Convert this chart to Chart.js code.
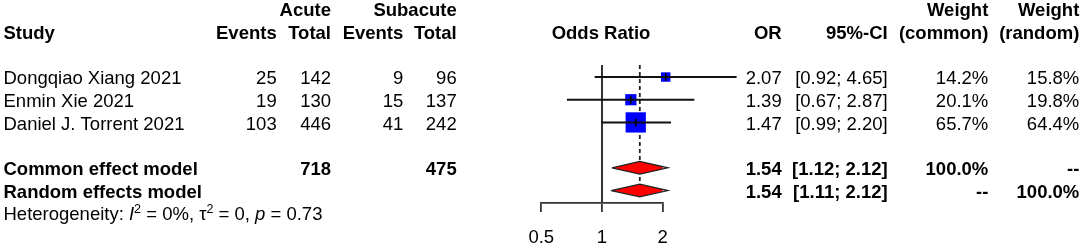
<!DOCTYPE html>
<html>
<head>
<meta charset="utf-8">
<script src="https://cdn.jsdelivr.net/npm/chart.js@4.4.1/dist/chart.umd.min.js"></script>
<style>
  html, body { margin: 0; padding: 0; background: #fff; }
  #wrap { width: 1084px; height: 247px; }
</style>
</head>
<body>
<div id="wrap"><canvas id="forest" width="1084" height="247"></canvas></div>
<script>
// datos del forest plot
const studies = ['Dongqiao Xiang 2021', 'Enmin Xie 2021', 'Daniel J. Torrent 2021'];
const acuteEvents = [25, 19, 103];
const acuteTotal = [142, 130, 446];
const subEvents = [9, 15, 41];
const subTotal = [96, 137, 242];
const orEst = [2.07, 1.39, 1.47];
const ciLow = [0.92, 0.67, 0.99];
const ciHigh = [4.65, 2.87, 2.20];
const weightCommon = [14.2, 20.1, 65.7];
const weightRandom = [15.8, 19.8, 64.4];

const models = ['Common effect model', 'Random effects model'];
const modelOR = [1.54, 1.54];
const modelLow = [1.12, 1.11];
const modelHigh = [2.12, 2.12];
const modelWeightCommon = ['100.0%', '--'];
const modelWeightRandom = ['--', '100.0%'];

const heterogeneity = { i2: '0%', tau2: '0', p: '0.73' };
const xTicks = [0.5, 1, 2];

// filas (unidades del eje y)
const studyRows = [3, 4, 5];
const modelRows = [7, 8];
const yTop = 2.47, yBottom = 8.55;
const diamondHalf = 0.28;

const FONT = '"Liberation Sans", Arial, Helvetica, sans-serif';
const FS = 18.5;

const totalAcute = acuteTotal.reduce((a, b) => a + b, 0);
const totalSub = subTotal.reduce((a, b) => a + b, 0);

// columnas de texto
const col = { study: 3.5, aEv: 276.7, aTot: 331, sEv: 403.3, sTot: 456.7, or: 781.7, ci: 887.7, wC: 988.3, wR: 1079.3, head: 601 };

function fmtCI(lo, hi) {
    return '[' + lo.toFixed(2) + '; ' + hi.toFixed(2) + ']';
}

const datasets = [];

// marcas verticales del estimador
datasets.push({
    data: orEst.map((v, i) => ({ x: v, y: studyRows[i] })),
    pointStyle: 'line',
    pointRotation: 90,
    pointRadius: 4,
    pointBorderColor: '#000',
    pointBorderWidth: 1.6,
    showLine: false,
    clip: false
});

// intervalos de confianza
studies.forEach((s, i) => {
    datasets.push({
        data: [{ x: ciLow[i], y: studyRows[i] }, { x: ciHigh[i], y: studyRows[i] }],
        showLine: true,
        borderColor: '#111',
        borderWidth: 2,
        pointRadius: 0,
        clip: false
    });
});

// cuadrados (tamaño segun peso)
datasets.push({
    data: orEst.map((v, i) => ({ x: v, y: studyRows[i] })),
    pointStyle: 'rect',
    pointRadius: weightCommon.map(w => 2.5 * Math.sqrt(w) / Math.SQRT2),
    pointBackgroundColor: '#0000ff',
    pointBorderWidth: 0,
    showLine: false,
    clip: false
});

// diamantes
models.forEach((m, i) => {
    const r = modelRows[i];
    datasets.push({
        data: [
            { x: modelLow[i], y: r },
            { x: modelOR[i], y: r - diamondHalf },
            { x: modelHigh[i], y: r },
            { x: modelOR[i], y: r + diamondHalf },
            { x: modelLow[i], y: r }
        ],
        showLine: true,
        fill: 'shape',
        backgroundColor: '#ff0000',
        borderColor: '#222',
        borderWidth: 1.3,
        pointRadius: 0,
        tension: 0,
        clip: false
    });
});

// linea de no efecto
datasets.push({
    data: [{ x: 1, y: yTop }, { x: 1, y: yBottom }],
    showLine: true,
    borderColor: '#333',
    borderWidth: 2,
    pointRadius: 0,
    clip: false
});

// linea discontinua del modelo comun
datasets.push({
    data: [{ x: modelOR[0], y: yTop }, { x: modelOR[0], y: modelRows[1] - diamondHalf }],
    showLine: true,
    borderColor: '#222',
    borderWidth: 1.8,
    borderDash: [4, 3],
    pointRadius: 0,
    clip: false
});

function drawText(ctx, txt, x, y, align, bold) {
    ctx.font = (bold ? 'bold ' : '') + FS + 'px ' + FONT;
    ctx.textAlign = align;
    ctx.fillText(txt, x, y);
}

const textoPlugin = {
    id: 'texto',
    afterDraw(chart) {
        const ctx = chart.ctx;
        const yS = chart.scales.y;
        const rowY = r => yS.getPixelForValue(r) + 2;
        ctx.save();
        ctx.fillStyle = '#000';
        ctx.textBaseline = 'middle';

        // cabeceras
        let y0 = rowY(0), y1 = rowY(1);
        drawText(ctx, 'Acute', col.aTot, y0, 'right', true);
        drawText(ctx, 'Subacute', col.sTot, y0, 'right', true);
        drawText(ctx, 'Weight', col.wC, y0, 'right', true);
        drawText(ctx, 'Weight', col.wR, y0, 'right', true);
        drawText(ctx, 'Study', col.study, y1, 'left', true);
        drawText(ctx, 'Events', col.aEv, y1, 'right', true);
        drawText(ctx, 'Total', col.aTot, y1, 'right', true);
        drawText(ctx, 'Events', col.sEv, y1, 'right', true);
        drawText(ctx, 'Total', col.sTot, y1, 'right', true);
        drawText(ctx, 'Odds Ratio', col.head, y1, 'center', true);
        drawText(ctx, 'OR', col.or, y1, 'right', true);
        drawText(ctx, '95%-CI', col.ci, y1, 'right', true);
        drawText(ctx, '(common)', col.wC, y1, 'right', true);
        drawText(ctx, '(random)', col.wR, y1, 'right', true);

        // estudios
        studies.forEach((s, i) => {
            const y = rowY(studyRows[i]);
            drawText(ctx, s, col.study, y, 'left', false);
            drawText(ctx, String(acuteEvents[i]), col.aEv, y, 'right', false);
            drawText(ctx, String(acuteTotal[i]), col.aTot, y, 'right', false);
            drawText(ctx, String(subEvents[i]), col.sEv, y, 'right', false);
            drawText(ctx, String(subTotal[i]), col.sTot, y, 'right', false);
            drawText(ctx, orEst[i].toFixed(2), col.or, y, 'right', false);
            drawText(ctx, fmtCI(ciLow[i], ciHigh[i]), col.ci, y, 'right', false);
            drawText(ctx, weightCommon[i].toFixed(1) + '%', col.wC, y, 'right', false);
            drawText(ctx, weightRandom[i].toFixed(1) + '%', col.wR, y, 'right', false);
        });

        // modelos
        models.forEach((m, i) => {
            const y = rowY(modelRows[i]);
            drawText(ctx, m, col.study, y, 'left', true);
            if (i === 0) {
                drawText(ctx, String(totalAcute), col.aTot, y, 'right', true);
                drawText(ctx, String(totalSub), col.sTot, y, 'right', true);
            }
            drawText(ctx, modelOR[i].toFixed(2), col.or, y, 'right', true);
            drawText(ctx, fmtCI(modelLow[i], modelHigh[i]), col.ci, y, 'right', true);
            drawText(ctx, modelWeightCommon[i], col.wC, y, 'right', true);
            drawText(ctx, modelWeightRandom[i], col.wR, y, 'right', true);
        });

        // heterogeneidad
        const yh = rowY(9);
        const partes = [
            { t: 'Heterogeneity: ', f: '' },
            { t: 'I', f: 'italic ' },
            { t: '2', f: '', sup: true },
            { t: ' = ' + heterogeneity.i2 + ', \u03c4', f: '' },
            { t: '2', f: '', sup: true },
            { t: ' = ' + heterogeneity.tau2 + ', ', f: '' },
            { t: 'p', f: 'italic ' },
            { t: ' = ' + heterogeneity.p, f: '' }
        ];
        let x = col.study;
        ctx.textAlign = 'left';
        partes.forEach(p => {
            if (p.sup) {
                ctx.font = '12.5px ' + FONT;
                ctx.fillText(p.t, x, yh - 6);
            } else {
                ctx.font = p.f + FS + 'px ' + FONT;
                ctx.fillText(p.t, x, yh);
            }
            x += ctx.measureText(p.t).width;
        });
        ctx.restore();
    }
};

new Chart(document.getElementById('forest'), {
    type: 'scatter',
    data: { datasets: datasets },
    options: {
        responsive: false,
        animation: false,
        events: [],
        layout: { padding: { left: 541.3, right: 1084 - 662.7, top: 65, bottom: 0 } },
        plugins: { legend: { display: false }, tooltip: { enabled: false } },
        scales: {
            x: {
                type: 'logarithmic',
                min: xTicks[0],
                max: xTicks[xTicks.length - 1],
                position: 'bottom',
                afterBuildTicks: s => { s.ticks = xTicks.map(v => ({ value: v })); },
                afterFit: s => { s.height = 44; },
                border: { display: true, color: '#333', width: 1.8 },
                grid: { drawOnChartArea: false, drawTicks: true, tickLength: 9, color: '#333', lineWidth: 1.8 },
                ticks: {
                    color: '#000',
                    padding: 15,
                    autoSkip: false,
                    maxRotation: 0,
                    font: { family: FONT, size: FS },
                    callback: v => String(v)
                }
            },
            y: {
                type: 'linear',
                reverse: true,
                min: yTop,
                max: yBottom,
                display: false
            }
        }
    },
    plugins: [textoPlugin]
});
</script>
</body>
</html>
